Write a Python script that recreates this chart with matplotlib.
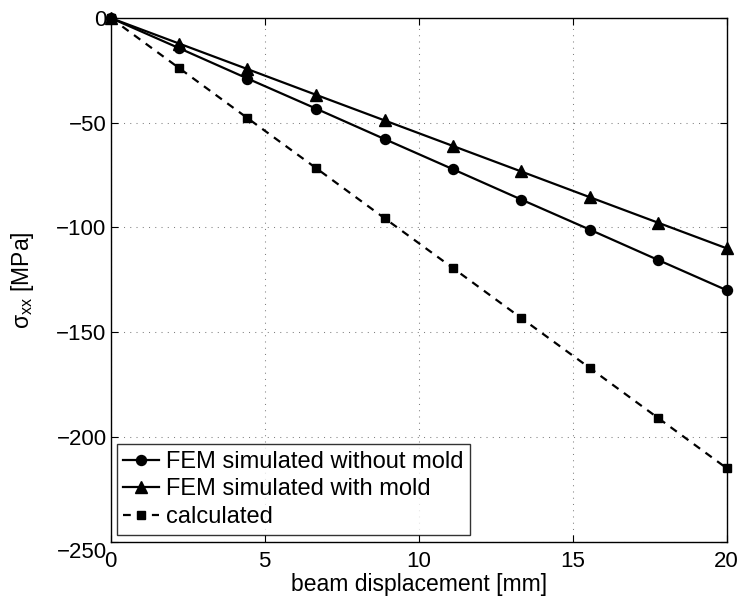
import matplotlib
matplotlib.use("Agg")
import matplotlib.pyplot as plt
from matplotlib.transforms import ScaledTranslation

plt.rcParams['font.family'] = ['Liberation Sans', 'DejaVu Sans']
plt.rcParams['mathtext.fontset'] = 'custom'
plt.rcParams['mathtext.rm'] = 'Liberation Sans'
plt.rcParams['mathtext.it'] = 'Liberation Sans:italic'

displacement = [0.0, 2.22, 4.44, 6.67, 8.89, 11.11, 13.33, 15.56, 17.78, 20.0]
without_mold = [0.0, -14.4, -28.9, -43.3, -57.8, -72.2, -86.7, -101.1, -115.6, -130.0]
with_mold = [0.0, -12.2, -24.4, -36.7, -48.9, -61.1, -73.3, -85.6, -97.8, -110.0]
calculated = [0.0, -23.9, -47.8, -71.7, -95.6, -119.4, -143.3, -167.2, -191.1, -215.0]

labels = ['FEM simulated without mold', 'FEM simulated with mold', 'calculated']
x_ticks = [0, 5, 10, 15, 20]
y_ticks = [-250, -200, -150, -100, -50, 0]

FS = 16
fig = plt.figure(figsize=(7.4, 5.97), dpi=100)
L, R, T, B = 110.7, 726.7, 18.0, 541.5
ax = fig.add_axes([L/740, 1 - B/597, (R-L)/740, (B-T)/597])

ax.plot(displacement, without_mold, '-o', color='black', lw=1.6, ms=7.2, label=labels[0], clip_on=False, zorder=3)
ax.plot(displacement, with_mold, '-^', color='black', lw=1.6, ms=8, label=labels[1], clip_on=False, zorder=3)
ax.plot(displacement, calculated, '--s', color='black', lw=1.6, ms=5.5, dashes=(3.5, 3), label=labels[2], clip_on=False, zorder=3)

ax.set_xlim(0, 20)
ax.set_ylim(-250, 0)
ax.set_xticks(x_ticks)
ax.set_yticks(y_ticks)
ax.set_yticklabels(['\u2212' + str(-t) if t < 0 else str(t) for t in y_ticks])
ax.tick_params(direction='in', top=True, right=True, labelsize=FS, length=5, width=0.8)
ax.tick_params(axis='x', pad=6.5)
ax.tick_params(axis='y', pad=3)
ax.grid(True, linestyle=(0, (1, 5)), color='#808080', lw=0.75)
for s in ax.spines.values():
    s.set_linewidth(1.0)

ax.set_xlabel('beam displacement [mm]', fontsize=FS + 0.5)
ax.xaxis.set_label_coords(0.5, (B - 573) / (B - T))
ax.set_ylabel('σ$_{\\mathrm{xx}}$ [MPa]', fontsize=FS + 0.5)
ax.yaxis.set_label_coords((36 - L) / (R - L), 0.5)

# lowest y tick label sits slightly below the axis corner
lbl = ax.yaxis.get_major_ticks()[0].label1
lbl.set_transform(lbl.get_transform() + ScaledTranslation(0, -8/100, fig.dpi_scale_trans))

leg = ax.legend(loc='lower left', bbox_to_anchor=((117 - L) / (R - L), (B - 534.5) / (B - T)),
                borderaxespad=0, fontsize=17, frameon=True, fancybox=False, edgecolor='black',
                handlelength=1.5, handletextpad=0.3, borderpad=0.27, labelspacing=0.24)
leg.get_frame().set_linewidth(1.0)

fig.savefig('out.png', dpi=100)
